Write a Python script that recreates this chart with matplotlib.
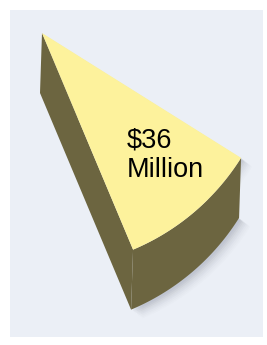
import matplotlib
matplotlib.use("Agg")
import matplotlib.pyplot as plt
from matplotlib.patches import Polygon, Rectangle
import numpy as np

# the single slice shown
labels = ['$36\nMillion']
values = [36]

# slice geometry in picture pixels (y down)
apex = (42, 33)
radius = 235
start_deg, end_deg = 32.1, 67.2
depth = 60
shift = -2

top_col = '#fdf29c'
side_col = '#6c6540'
bg_col = '#ebeff6'

fig = plt.figure(figsize=(2.67, 3.45), dpi=100)
ax = fig.add_axes([0, 0, 1, 1])
ax.set_xlim(0, 267)
ax.set_ylim(345, 0)
ax.axis('off')

ax.add_patch(Rectangle((10, 10), 253, 327, facecolor=bg_col, edgecolor='none'))

t = np.radians(np.linspace(start_deg, end_deg, 80))
arc_x = apex[0] + radius * np.cos(t)
arc_y = apex[1] + radius * np.sin(t)
top = np.column_stack([np.r_[apex[0], arc_x], np.r_[apex[1], arc_y]])
low = top + [shift, depth]

# silhouette of the whole block
sil = np.vstack([top[1:], low[1:][::-1], low[:1], top[:1]])

# soft shadow
for i, a in enumerate(np.linspace(0.06, 0.015, 8)):
    off = 2 + i * 1.3
    ax.add_patch(Polygon(sil + [off, off * 0.8], closed=True,
                         facecolor='#5a6070', edgecolor='none', alpha=a))

# left straight face
left = np.array([top[0], top[-1], low[-1], low[0]])
ax.add_patch(Polygon(left, closed=True, facecolor=side_col, edgecolor='none'))
# outer curved face
outer = np.vstack([top[1:], low[1:][::-1]])
ax.add_patch(Polygon(outer, closed=True, facecolor=side_col, edgecolor='none'))
# top face
ax.add_patch(Polygon(top, closed=True, facecolor=top_col, edgecolor='none'))

ax.text(127, 155, labels[0], fontsize=19.5, family=['Liberation Sans', 'DejaVu Sans'],
        color='black', ha='left', va='center', linespacing=1.2)

fig.savefig('out.png', dpi=100)
